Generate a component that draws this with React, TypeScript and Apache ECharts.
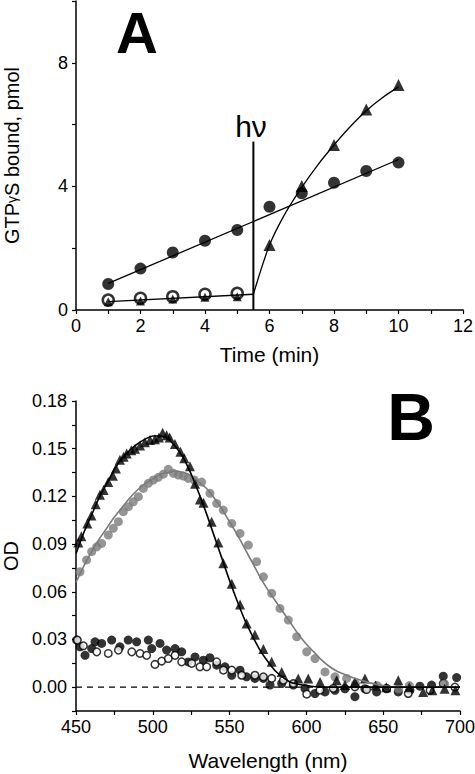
import React, { useEffect, useRef } from "react";
import * as echarts from "echarts";

// ---------- Panel A data ----------
const timeMin = [1, 2, 3, 4, 5, 6, 7, 8, 9, 10];
const filledCircleA = [0.84, 1.34, 1.86, 2.24, 2.59, 3.34, 3.78, 4.12, 4.5, 4.77];
const triangleA = [0.27, 0.29, 0.36, 0.41, 0.43, 2.1, 4.01, 5.34, 6.49, 7.28];
const openCircleTime = [1, 2, 3, 4, 5];
const openCircleA = [0.32, 0.38, 0.43, 0.51, 0.54];
const fitCircleA: number[][] = [[1, 0.86], [10, 4.87]];
const fitDarkA: number[][] = [[1, 0.27], [5.5, 0.51]];
const fitLightA: number[][] = [
  [5.5, 0.51], [6, 2.1], [6.5, 3.15], [7, 3.97], [7.5, 4.7], [8, 5.34],
  [8.5, 5.93], [9, 6.45], [9.5, 6.87], [10, 7.22],
];
const hvLine: number[][] = [[5.5, 0], [5.5, 5.45]];
const xTicksA = [0, 2, 4, 6, 8, 10, 12];
const yTicksA = [0, 4, 8];

// ---------- Panel B data ----------
const lightTriB: number[][] = [
  [451.5, 0.091], [453.5, 0.095], [457.4, 0.103], [460, 0.108], [462.8, 0.115],
  [465.6, 0.121], [468, 0.124], [471, 0.129], [474, 0.133], [476, 0.1375],
  [478.6, 0.143], [481, 0.145], [483, 0.147], [486, 0.149], [488.4, 0.15],
  [491.7, 0.152], [494.9, 0.154], [498.2, 0.1555], [501.4, 0.156], [504, 0.157],
  [506.4, 0.16], [509, 0.1585], [511, 0.157], [514.4, 0.153], [518, 0.148],
  [520.5, 0.144], [524.2, 0.139], [527.5, 0.128], [530.7, 0.118], [533, 0.116],
  [538.3, 0.104], [542.7, 0.091], [545.9, 0.078], [551.4, 0.065], [556.8, 0.052],
  [561.1, 0.04], [566.5, 0.033], [572, 0.024], [577.4, 0.016], [583.9, 0.0096],
  [594.7, 0.0055], [601.2, 0.0055], [608.9, 0.0033], [619.7, 0.0044], [625.1, 0.0013],
  [631.6, 0.0033], [638.1, 0.0055], [645, 0.001], [652, 0.0], [659.8, 0.0044],
  [667, 0.0], [676, -0.003], [682, -0.002], [690, -0.001], [697, -0.002],
];
const grayCircB: number[][] = [
  [452.6, 0.0726], [456.9, 0.08], [460.2, 0.0852], [463.5, 0.0883], [466.7, 0.0904],
  [471, 0.0957], [474.3, 0.0999], [477.6, 0.1041], [480.8, 0.1104], [484.1, 0.1135],
  [487.3, 0.1166], [490.6, 0.1198], [493.8, 0.125], [497.1, 0.1282], [500.3, 0.1303],
  [503.6, 0.132], [506.9, 0.134], [510.1, 0.137], [513.4, 0.1345], [516.6, 0.1334],
  [519.9, 0.1328], [523.1, 0.1313], [527, 0.1303], [531.8, 0.129], [537.2, 0.1219],
  [541.6, 0.1156], [545.9, 0.1114], [551.4, 0.103], [556.8, 0.0967], [562.2, 0.0894],
  [567.6, 0.0789], [572, 0.0694], [577.4, 0.059], [582.8, 0.0495], [588.2, 0.0422],
  [593.7, 0.0317], [600.2, 0.0222], [605.6, 0.018], [612.1, 0.0096], [618.6, 0.0065],
  [626.2, 0.0055], [632, 0.002], [646, 0.001], [660, -0.001], [667, 0.001], [690, 0.002],
];
const darkFilledB: number[][] = [
  [450.4, 0.0296], [452.6, 0.0254], [455.9, 0.02], [460.2, 0.0243], [462.4, 0.0285],
  [466.7, 0.0275], [473.2, 0.0296], [478.6, 0.0254], [484, 0.0296], [489.5, 0.0285],
  [497.1, 0.0296], [499.3, 0.0243], [504.7, 0.0275], [509, 0.0233], [514.5, 0.0243],
  [518.8, 0.0222], [523.1, 0.0159], [527.5, 0.019], [532.9, 0.017], [537.2, 0.0185],
  [541.6, 0.0138], [547, 0.0128], [551.4, 0.0075], [556.8, 0.0107], [561.1, 0.0065],
  [566.5, 0.0055], [572, 0.0055], [576.3, 0.0013], [583.9, 0.0023], [591.5, 0.0013],
  [599.1, -0.0008], [605.6, -0.004], [612.1, -0.003], [618.6, -0.002], [625.1, -0.001],
  [631.6, -0.006], [638.1, -0.001], [645.7, -0.003], [652.2, -0.001], [659.8, -0.003],
  [667.4, -0.002], [673.9, 0.0006], [681.5, 0.0013], [689.1, 0.0069], [697.8, 0.006],
];
const darkOpenB: number[][] = [
  [450.9, 0.0296], [454.8, 0.026], [463.5, 0.0222], [471, 0.0212], [477.6, 0.0233],
  [486.3, 0.0222], [491.7, 0.0212], [496, 0.02], [501.4, 0.0143], [505.8, 0.0164],
  [510.1, 0.018], [514.5, 0.02], [518.8, 0.0159], [525.3, 0.0149], [530.7, 0.0128],
  [535.1, 0.0128], [541.6, 0.0159], [546, 0.0107], [551.4, 0.0107], [557.9, 0.0075],
  [566.5, 0.0075], [572, 0.0065], [577.4, 0.0055], [585, 0.0044], [591.5, 0.0023],
  [600.2, -0.0044], [608.8, -0.0019], [617.5, -0.0008], [631.6, 0.0002], [639.2, -0.0015],
  [652.2, -0.0008], [666.3, -0.004], [680.5, -0.002], [689.1, 0.0023], [696.7, 0.0],
];
const fitLightB: number[][] = [
  [450, 0.084], [455, 0.097], [460, 0.108], [465, 0.119], [470, 0.128], [475, 0.137],
  [480, 0.144], [485, 0.149], [490, 0.153], [495, 0.156], [500, 0.158], [505, 0.158],
  [510, 0.156], [515, 0.151], [520, 0.144], [525, 0.134], [530, 0.122], [535, 0.109],
  [540, 0.095], [545, 0.081], [550, 0.067], [555, 0.054], [560, 0.042], [565, 0.032],
  [570, 0.023], [575, 0.016], [580, 0.01], [585, 0.006], [590, 0.003], [600, 0.001],
  [610, 0], [700, 0],
];
const fitGrayB: number[][] = [
  [450, 0.066], [455, 0.076], [460, 0.085], [465, 0.093], [470, 0.1], [475, 0.107],
  [480, 0.113], [485, 0.119], [490, 0.124], [495, 0.128], [500, 0.131], [505, 0.134],
  [510, 0.135], [515, 0.136], [520, 0.135], [525, 0.133], [530, 0.129], [535, 0.125],
  [540, 0.119], [545, 0.112], [550, 0.104], [555, 0.096], [560, 0.087], [565, 0.078],
  [570, 0.069], [575, 0.061], [580, 0.054], [585, 0.047], [590, 0.04], [595, 0.033],
  [600, 0.027], [605, 0.022], [610, 0.017], [615, 0.013], [620, 0.01], [625, 0.008],
  [630, 0.006], [640, 0.003], [650, 0.001], [660, 0], [700, 0],
];
const zeroLineB: number[][] = [[450, 0], [700, 0]];
const xTicksB = [450, 500, 550, 600, 650, 700];
const yTicksB = [0.0, 0.03, 0.06, 0.09, 0.12, 0.15, 0.18];

const FONT = "'Liberation Sans', Arial, sans-serif";
const GRAY = "#7a7a7a";

export default function App() {
  const ref = useRef<HTMLDivElement>(null);
  useEffect(() => {
    if (!ref.current) return;
    const chart = echarts.init(ref.current, null, { renderer: "svg" });
    const axisLine = { show: true, onZero: false, lineStyle: { color: "#000", width: 1.5 } };
    const axisTick = { show: true, inside: false, length: 4, lineStyle: { color: "#000", width: 1.2 } };
    const lbl = { color: "#000", fontSize: 18, fontFamily: FONT };
    const near = (v: number, arr: number[]) => arr.some((t) => Math.abs(t - v) < 1e-6);

    const zipA = (xs: number[], ys: number[]) => xs.map((x, i) => [x, ys[i]]);

    chart.setOption({
      animation: false,
      backgroundColor: "#fff",
      grid: [
        { left: 76, top: 1, width: 387, height: 309, containLabel: false, outerBoundsMode: "none" },
        { left: 76, top: 401, width: 384, height: 310, containLabel: false, outerBoundsMode: "none" },
      ],
      xAxis: [
        {
          gridIndex: 0, type: "value", min: 0, max: 12, interval: 1,
          axisLine, axisTick, splitLine: { show: false },
          axisLabel: { ...lbl, margin: 7, formatter: (v: number) => (near(v, xTicksA) ? String(v) : "") },
          name: "Time (min)", nameLocation: "middle", nameGap: 34,
          nameTextStyle: { color: "#000", fontSize: 21, fontFamily: FONT },
        },
        {
          gridIndex: 1, type: "value", min: 450, max: 700, interval: 25,
          axisLine, axisTick, splitLine: { show: false },
          axisLabel: { ...lbl, margin: 7, formatter: (v: number) => (near(v, xTicksB) ? String(v) : "") },
          name: "Wavelength (nm)", nameLocation: "middle", nameGap: 39,
          nameTextStyle: { color: "#000", fontSize: 21, fontFamily: FONT },
        },
      ],
      yAxis: [
        {
          gridIndex: 0, type: "value", min: 0, max: 10, interval: 2,
          axisLine, axisTick, splitLine: { show: false },
          axisLabel: { ...lbl, margin: 8, formatter: (v: number) => (near(v, yTicksA) ? String(v) : "") },
          name: "GTP{g|γ}S bound, pmol", nameLocation: "middle", nameGap: 54, nameRotate: 90,
          nameTextStyle: {
            color: "#000", fontSize: 20, fontFamily: FONT,
            rich: { g: { fontSize: 14, fontFamily: FONT, color: "#000" } },
          },
        },
        {
          gridIndex: 1, type: "value", min: -0.015, max: 0.18, interval: 0.015,
          axisLine, axisTick, splitLine: { show: false },
          axisLabel: { ...lbl, margin: 9, formatter: (v: number) => (near(v, yTicksB) ? v.toFixed(2) : "") },
          name: "OD", nameLocation: "middle", nameGap: 54, nameRotate: 90,
          nameTextStyle: { color: "#000", fontSize: 20, fontFamily: FONT },
        },
      ],
      series: [
        // ----- Panel A -----
        { type: "line", xAxisIndex: 0, yAxisIndex: 0, data: fitCircleA, symbol: "none", lineStyle: { color: "#000", width: 1.3 } },
        { type: "line", xAxisIndex: 0, yAxisIndex: 0, data: fitDarkA, symbol: "none", lineStyle: { color: "#000", width: 1.3 } },
        { type: "line", xAxisIndex: 0, yAxisIndex: 0, data: fitLightA, smooth: 0.3, symbol: "none", lineStyle: { color: "#000", width: 1.3 } },
        { type: "line", xAxisIndex: 0, yAxisIndex: 0, data: hvLine, symbol: "none", lineStyle: { color: "#000", width: 2 } },
        {
          type: "scatter", xAxisIndex: 0, yAxisIndex: 0, data: zipA(openCircleTime, openCircleA),
          symbol: "circle", symbolSize: 11, itemStyle: { color: "#fff", borderColor: "#000", borderWidth: 2.5 },
        },
        {
          type: "scatter", xAxisIndex: 0, yAxisIndex: 0, data: zipA(timeMin, triangleA),
          symbol: "triangle", symbolSize: (v: number[]) => (v[0] <= 5 ? 9 : 12), itemStyle: { color: "#000" },
        },
        {
          type: "scatter", xAxisIndex: 0, yAxisIndex: 0, data: zipA(timeMin, filledCircleA),
          symbol: "circle", symbolSize: 12, itemStyle: { color: "#000" },
        },
        // ----- Panel B -----
        {
          type: "line", xAxisIndex: 1, yAxisIndex: 1, data: zeroLineB, symbol: "none",
          lineStyle: { color: "#000", width: 1.2, type: [6, 5] },
        },
        {
          type: "scatter", xAxisIndex: 1, yAxisIndex: 1, data: darkFilledB,
          symbol: "circle", symbolSize: 9, itemStyle: { color: "#000" },
        },
        {
          type: "scatter", xAxisIndex: 1, yAxisIndex: 1, data: darkOpenB,
          symbol: "circle", symbolSize: 7.5, itemStyle: { color: "#fff", borderColor: "#000", borderWidth: 1.5 },
        },
        {
          type: "scatter", xAxisIndex: 1, yAxisIndex: 1, data: grayCircB,
          symbol: "circle", symbolSize: 9, itemStyle: { color: GRAY },
        },
        { type: "line", xAxisIndex: 1, yAxisIndex: 1, data: fitGrayB, smooth: 0.3, symbol: "none", lineStyle: { color: GRAY, width: 1.6 } },
        {
          type: "scatter", xAxisIndex: 1, yAxisIndex: 1, data: lightTriB,
          symbol: "triangle", symbolSize: 10, itemStyle: { color: "#000" },
        },
        { type: "line", xAxisIndex: 1, yAxisIndex: 1, data: fitLightB, smooth: 0.3, symbol: "none", lineStyle: { color: "#000", width: 1.6 } },
      ],
      graphic: [
        {
          type: "text", x: 137, y: 32,
          style: { text: "A", font: `bold 58px ${FONT}`, lineHeight: 46, fill: "#000", textAlign: "center", textVerticalAlign: "middle" },
        },
        {
          type: "text", x: 411, y: 417,
          style: { text: "B", font: `bold 66px ${FONT}`, lineHeight: 52, fill: "#000", textAlign: "center", textVerticalAlign: "middle" },
        },
        {
          type: "text", x: 251, y: 126,
          style: { text: "hν", font: `30px ${FONT}`, fill: "#000", textAlign: "center", textVerticalAlign: "middle" },
        },
      ],
    });
    return () => chart.dispose();
  }, []);
  return (
    <div
      ref={ref}
      style={{ position: "fixed", left: 0, top: 0, width: 475, height: 774, background: "#fff" }}
    />
  );
}
